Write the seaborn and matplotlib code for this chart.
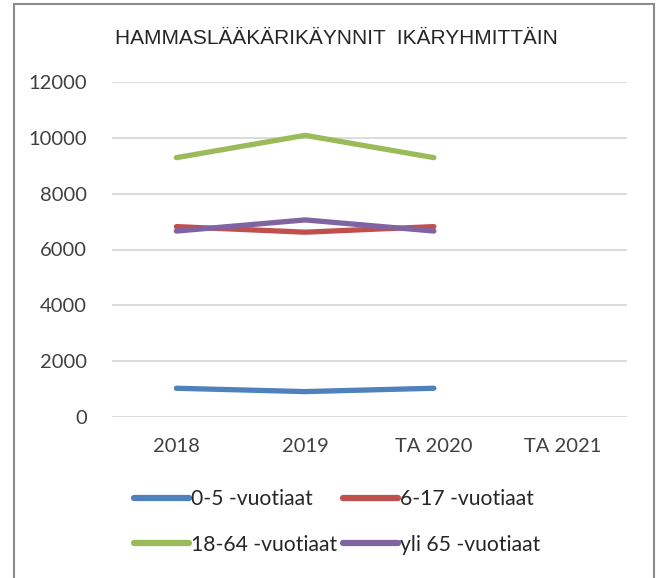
import matplotlib
matplotlib.use("Agg")
import matplotlib.pyplot as plt
import pandas as pd
import seaborn as sns
from matplotlib.patches import Rectangle

# data
years = ["2018", "2019", "TA 2020", "TA 2021"]
groups = ["0-5 -vuotiaat", "6-17 -vuotiaat", "18-64 -vuotiaat", "yli 65 -vuotiaat"]
visits_0_5 = [1030, 910, 1030]
visits_6_17 = [6820, 6620, 6820]
visits_18_64 = [9290, 10090, 9290]
visits_65 = [6660, 7060, 6660]
colors = ["#4F81BD", "#C0504D", "#9BBB59", "#8064A2"]

rows = []
for grp, vals in zip(groups, [visits_0_5, visits_6_17, visits_18_64, visits_65]):
    for i, v in enumerate(vals):
        rows.append({"pos": i, "year": years[i], "group": grp, "visits": v})
df = pd.DataFrame(rows)

sns.set_style("white")
plt.rcParams["font.family"] = ["Lato", "DejaVu Sans"]

fig = plt.figure(figsize=(6.57, 5.78), dpi=100)
ax = fig.add_axes([112 / 657, 1 - 417 / 578, 515 / 657, 335 / 578])

sns.lineplot(data=df, x="pos", y="visits", hue="group", hue_order=groups,
             palette=colors, linewidth=3.8, ax=ax, legend=False,
             solid_capstyle="round")

ax.set_xlim(-0.5, len(years) - 0.5)
ax.set_ylim(0, 12000)
ax.set_yticks(range(0, 12001, 2000))
ax.set_xticks(range(len(years)))
ax.set_xticklabels(years)
ax.set_xlabel("")
ax.set_ylabel("")
ax.grid(axis="y", color="#D9D9D9", linewidth=1.3)
ax.set_axisbelow(True)
for s in ax.spines.values():
    s.set_visible(False)
ax.tick_params(axis="both", length=0, labelsize=14.5, colors="#404040")
ax.tick_params(axis="y", pad=18)
ax.tick_params(axis="x", pad=15)

fig.text(115 / 657, 1 - 38 / 578, "HAMMASLÄÄKÄRIKÄYNNIT  IKÄRYHMITTÄIN",
         family=["Liberation Sans", "DejaVu Sans"], fontsize=15,
         color="#262626", ha="left", va="center")

# legend fills row by row in the reference
order = [0, 2, 1, 3]
handles = [plt.Line2D([], [], color=colors[i], linewidth=4.5, solid_capstyle="round") for i in order]
labels = [groups[i] for i in order]
fig.legend(handles, labels, loc="center", bbox_to_anchor=(337 / 657, 1 - 522 / 578),
           ncol=2, frameon=False, fontsize=15.2, handlelength=2.6,
           handletextpad=0.1, columnspacing=0.3, labelspacing=1.2,
           labelcolor="#262626")

fig.add_artist(Rectangle((13.5 / 657, -0.01), (654 - 13.5) / 657, 1 - 4 / 578 + 0.01,
                         transform=fig.transFigure, fill=False,
                         edgecolor="#8C8C8C", linewidth=1.5))

fig.savefig("out.png", dpi=100)
